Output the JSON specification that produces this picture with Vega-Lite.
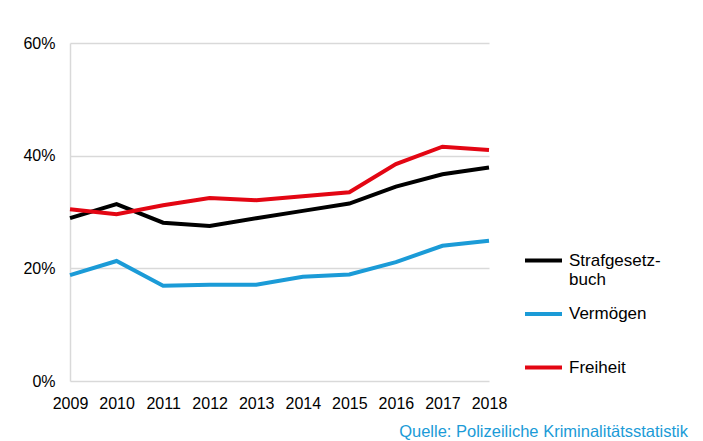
{
  "$schema": "https://vega.github.io/schema/vega-lite/v6.json",
  "width": 419,
  "height": 338,
  "autosize": {"type": "none"},
  "padding": {"left": 70, "top": 43, "right": 214, "bottom": 60},
  "background": "white",
  "config": {
    "font": "Liberation Sans",
    "view": {"stroke": null}
  },
  "title": {
    "text": "Quelle: Polizeiliche Kriminalitätsstatistik",
    "orient": "bottom",
    "anchor": "end",
    "frame": "group",
    "dx": 199,
    "offset": 13,
    "fontSize": 16.5,
    "fontWeight": "normal",
    "color": "#1b9bd7",
    "font": "Liberation Sans"
  },
  "data": {
    "values": [
      {"year": 2009, "series": "Strafgesetzbuch", "value": 0.289},
      {"year": 2010, "series": "Strafgesetzbuch", "value": 0.314},
      {"year": 2011, "series": "Strafgesetzbuch", "value": 0.281},
      {"year": 2012, "series": "Strafgesetzbuch", "value": 0.275},
      {"year": 2013, "series": "Strafgesetzbuch", "value": 0.289},
      {"year": 2014, "series": "Strafgesetzbuch", "value": 0.302},
      {"year": 2015, "series": "Strafgesetzbuch", "value": 0.315},
      {"year": 2016, "series": "Strafgesetzbuch", "value": 0.345},
      {"year": 2017, "series": "Strafgesetzbuch", "value": 0.367},
      {"year": 2018, "series": "Strafgesetzbuch", "value": 0.379},
      {"year": 2009, "series": "Vermögen", "value": 0.188},
      {"year": 2010, "series": "Vermögen", "value": 0.213},
      {"year": 2011, "series": "Vermögen", "value": 0.169},
      {"year": 2012, "series": "Vermögen", "value": 0.171},
      {"year": 2013, "series": "Vermögen", "value": 0.171},
      {"year": 2014, "series": "Vermögen", "value": 0.185},
      {"year": 2015, "series": "Vermögen", "value": 0.189},
      {"year": 2016, "series": "Vermögen", "value": 0.211},
      {"year": 2017, "series": "Vermögen", "value": 0.240},
      {"year": 2018, "series": "Vermögen", "value": 0.249},
      {"year": 2009, "series": "Freiheit", "value": 0.305},
      {"year": 2010, "series": "Freiheit", "value": 0.296},
      {"year": 2011, "series": "Freiheit", "value": 0.312},
      {"year": 2012, "series": "Freiheit", "value": 0.325},
      {"year": 2013, "series": "Freiheit", "value": 0.321},
      {"year": 2014, "series": "Freiheit", "value": 0.328},
      {"year": 2015, "series": "Freiheit", "value": 0.335},
      {"year": 2016, "series": "Freiheit", "value": 0.385},
      {"year": 2017, "series": "Freiheit", "value": 0.416},
      {"year": 2018, "series": "Freiheit", "value": 0.410}
    ]
  },
  "mark": {"type": "line", "strokeWidth": 4, "strokeCap": "butt", "strokeJoin": "miter"},
  "encoding": {
    "x": {
      "field": "year",
      "type": "quantitative",
      "scale": {"domain": [2009, 2018], "nice": false, "zero": false},
      "axis": {
        "title": null,
        "values": [2009, 2010, 2011, 2012, 2013, 2014, 2015, 2016, 2017, 2018],
        "format": "d",
        "grid": false,
        "ticks": false,
        "domain": false,
        "labelFontSize": 16,
        "labelColor": "#000000",
        "labelPadding": 14,
        "labelFlush": false,
        "labelOverlap": false
      }
    },
    "y": {
      "field": "value",
      "type": "quantitative",
      "scale": {"domain": [0, 0.6], "nice": false},
      "axis": {
        "title": null,
        "values": [0, 0.2, 0.4, 0.6],
        "format": ".0%",
        "grid": true,
        "gridColor": "#d9d9d9",
        "gridWidth": 1.5,
        "ticks": false,
        "domain": true,
        "domainColor": "#d9d9d9",
        "domainWidth": 1.5,
        "labelFontSize": 16,
        "labelColor": "#000000",
        "labelPadding": 15
      }
    },
    "color": {
      "field": "series",
      "type": "nominal",
      "sort": ["Strafgesetzbuch", "Vermögen", "Freiheit"],
      "scale": {
        "domain": ["Strafgesetzbuch", "Vermögen", "Freiheit"],
        "range": ["#000000", "#1b9bd7", "#e30613"]
      },
      "legend": {
        "title": null,
        "orient": "none",
        "legendX": 453,
        "legendY": 197,
        "symbolType": "stroke",
        "symbolSize": 1369,
        "symbolStrokeWidth": 4,
        "labelFontSize": 17,
        "labelColor": "#000000",
        "labelOffset": 5,
        "labelLimit": 200,
        "gridAlign": "all",
        "rowPadding": 5.5,
        "labelExpr": "datum.label == 'Strafgesetzbuch' ? ['Strafgesetz-', 'buch'] : datum.label"
      }
    }
  }
}
